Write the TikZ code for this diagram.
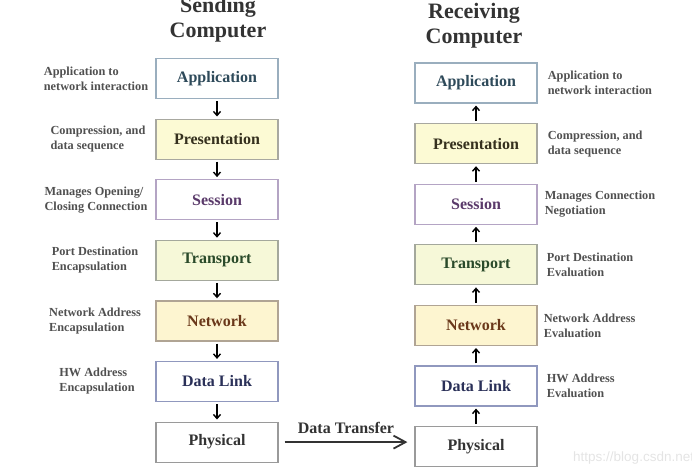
\documentclass[tikz,border=0pt]{standalone}
\usepackage{fontspec}
\setmainfont{Liberation Serif}
\newfontfamily\marksans{Liberation Sans}
\usetikzlibrary{positioning,arrows.meta}

\definecolor{inkgray}{HTML}{333333}
\definecolor{descgray}{HTML}{505050}
\definecolor{wmgray}{HTML}{E4E4E4}
\definecolor{appline}{HTML}{9AAEBE}
\definecolor{apptext}{HTML}{2E4A5A}
\definecolor{presfill}{HTML}{FCFAD4}
\definecolor{presline}{HTML}{A8A8A0}
\definecolor{prestext}{HTML}{35301E}
\definecolor{sessline}{HTML}{B4A4C4}
\definecolor{sesstext}{HTML}{5A3A6A}
\definecolor{tranfill}{HTML}{F6F8D8}
\definecolor{tranline}{HTML}{A4A89C}
\definecolor{trantext}{HTML}{2A4A2A}
\definecolor{netfill}{HTML}{FDF5D0}
\definecolor{netline}{HTML}{B0A494}
\definecolor{nettext}{HTML}{6A381A}
\definecolor{linkline}{HTML}{9098BE}
\definecolor{linktext}{HTML}{2A3058}
\definecolor{physline}{HTML}{9A9A9A}

\tikzset{
  layer/.style={draw, line width=1.2pt, inner sep=0pt,
    minimum width=122pt, minimum height=40pt,
    font=\fontsize{16}{19}\selectfont\bfseries},
  appbox/.style={layer, draw=appline, fill=white, text=apptext},
  presbox/.style={layer, draw=presline, fill=presfill, text=prestext},
  sessbox/.style={layer, draw=sessline, fill=white, text=sesstext},
  tranbox/.style={layer, draw=tranline, fill=tranfill, text=trantext},
  netbox/.style={layer, draw=netline, fill=netfill, text=nettext},
  linkbox/.style={layer, draw=linkline, fill=white, text=linktext},
  physbox/.style={layer, draw=physline, fill=white, text=inkgray},
  desc/.style={align=left, inner sep=0pt, text=descgray,
    font=\fontsize{12.3}{15}\selectfont\bfseries},
  heading/.style={align=center, inner sep=0pt, text=inkgray,
    font=\fontsize{22}{25}\selectfont\bfseries},
  hop/.style={-{Straight Barb[length=4pt,width=7pt]}, line width=1.4pt,
    shorten <=2pt, shorten >=2pt},
  xfer/.style={-{Straight Barb[length=12pt,width=13pt]}, line width=1.8pt,
    draw=inkgray}
}

\begin{document}
\begin{tikzpicture}[x=1pt,y=-1pt]
  \useasboundingbox (0,0) rectangle (692,474);

  % sending side
  \node[heading] (lhead) at (218,19.5) {Sending\\Computer};
  \node[appbox] (lapp) at (217,78.5) {Application};
  \node[presbox, below=19.4pt of lapp] (lpres) {Presentation};
  \node[sessbox, below=19.4pt of lpres] (lsess) {Session};
  \node[tranbox, below=19.4pt of lsess] (ltran) {Transport};
  \node[netbox, below=19.4pt of ltran] (lnet) {Network};
  \node[linkbox, below=19.4pt of lnet] (llink) {Data Link};
  \node[physbox, below=19.4pt of llink] (lphys) {Physical};

  \draw[hop] (lapp) -- (lpres);
  \draw[hop] (lpres) -- (lsess);
  \draw[hop] (lsess) -- (ltran);
  \draw[hop] (ltran) -- (lnet);
  \draw[hop] (lnet) -- (llink);
  \draw[hop] (llink) -- (lphys);

  \node[desc] (lappd) at ([xshift=-121pt]lapp.center) {Application to\\network interaction};
  \node[desc] (lpresd) at ([xshift=-119pt]lpres.center) {Compression, and\\data sequence};
  \node[desc] (lsessd) at ([xshift=-121pt]lsess.center) {Manages Opening/\\Closing Connection};
  \node[desc] (ltrand) at ([xshift=-122pt]ltran.center) {Port Destination\\Encapsulation};
  \node[desc] (lnetd) at ([xshift=-122pt]lnet.center) {Network Address\\Encapsulation};
  \node[desc] (llinkd) at ([xshift=-120pt]llink.center) {HW Address\\Encapsulation};

  % receiving side
  \node[heading] (rhead) at (474,25.5) {Receiving\\Computer};
  \node[appbox] (rapp) at (476,83) {Application};
  \node[presbox, below=19.4pt of rapp] (rpres) {Presentation};
  \node[sessbox, below=19.4pt of rpres] (rsess) {Session};
  \node[tranbox, below=19.4pt of rsess] (rtran) {Transport};
  \node[netbox, below=19.4pt of rtran] (rnet) {Network};
  \node[linkbox, below=19.4pt of rnet] (rlink) {Data Link};
  \node[physbox, below=19.4pt of rlink] (rphys) {Physical};

  \draw[hop] (rphys) -- (rlink);
  \draw[hop] (rlink) -- (rnet);
  \draw[hop] (rnet) -- (rtran);
  \draw[hop] (rtran) -- (rsess);
  \draw[hop] (rsess) -- (rpres);
  \draw[hop] (rpres) -- (rapp);

  \node[desc, anchor=west] (rappd) at ([xshift=10pt]rapp.east) {Application to\\network interaction};
  \node[desc, anchor=west] (rpresd) at ([xshift=10pt]rpres.east) {Compression, and\\data sequence};
  \node[desc, anchor=west] (rsessd) at ([xshift=7pt]rsess.east) {Manages Connection\\Negotiation};
  \node[desc, anchor=west] (rtrand) at ([xshift=9pt]rtran.east) {Port Destination\\Evaluation};
  \node[desc, anchor=west] (rnetd) at ([xshift=6pt]rnet.east) {Network Address\\Evaluation};
  \node[desc, anchor=west] (rlinkd) at ([xshift=9pt]rlink.east) {HW Address\\Evaluation};

  % transfer between the two
  \draw[xfer] ([xshift=6pt]lphys.east) -- ([xshift=-7pt]rphys.west |- lphys.east)
    node[midway, above=4pt, text=inkgray, font=\fontsize{16}{19}\selectfont\bfseries] (xlabel) {Data Transfer};

  \node[anchor=west, inner sep=0pt, text=wmgray, font=\marksans\fontsize{13.5}{15}\selectfont] (mark) at (573,458) {https://blog.csdn.net};
\end{tikzpicture}
\end{document}
